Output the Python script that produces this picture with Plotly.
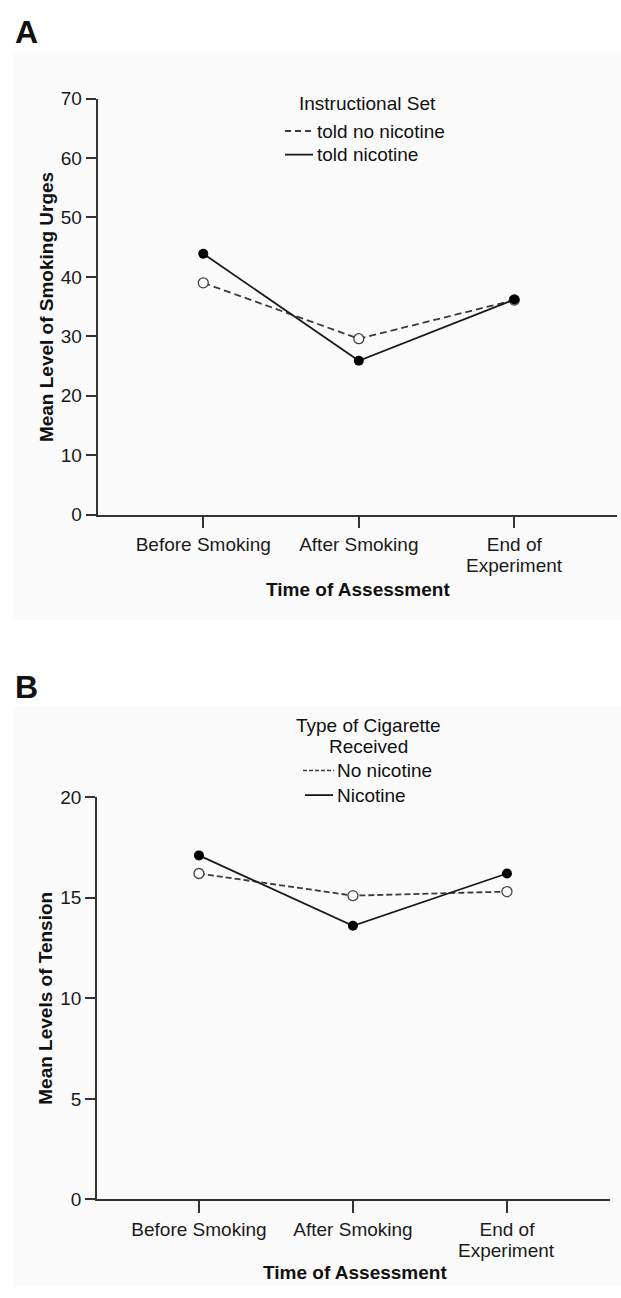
import plotly.graph_objects as go

W, H = 621, 1298

# ---------------- data ----------------
categories = ["Before Smoking", "After Smoking", "End of Experiment"]
tick_line1 = ["Before Smoking", "After Smoking", "End of"]
tick_line2 = ["", "", "Experiment"]

# Panel A: Mean Level of Smoking Urges
urges_told_no_nicotine = [39.0, 29.6, 36.1]
urges_told_nicotine = [43.9, 25.9, 36.2]
a_yticks = [0, 10, 20, 30, 40, 50, 60, 70]

# Panel B: Mean Levels of Tension
tension_no_nicotine = [16.2, 15.1, 15.3]
tension_nicotine = [17.1, 13.6, 16.2]
b_yticks = [0, 5, 10, 15, 20]

FONT = "Liberation Sans, Arial, sans-serif"
AX = "#333333"


def px(x):
    return x / W


def py(y):
    return 1 - y / H


fig = go.Figure()

# Panel A traces
fig.add_trace(go.Scatter(
    x=categories, y=urges_told_no_nicotine, mode="lines+markers",
    name="told no nicotine", xaxis="x", yaxis="y",
    line=dict(color="#3a3a3a", width=1.8, dash="7px,4px"),
    marker=dict(size=10, color="white", line=dict(color="#444444", width=1.3)),
    showlegend=False))
fig.add_trace(go.Scatter(
    x=categories, y=urges_told_nicotine, mode="lines+markers",
    name="told nicotine", xaxis="x", yaxis="y",
    line=dict(color="#1a1a1a", width=1.8),
    marker=dict(size=10, color="black"),
    showlegend=False))

# Panel B traces
fig.add_trace(go.Scatter(
    x=categories, y=tension_no_nicotine, mode="lines+markers",
    name="No nicotine", xaxis="x2", yaxis="y2",
    line=dict(color="#3a3a3a", width=1.8, dash="6px,3px"),
    marker=dict(size=10, color="white", line=dict(color="#444444", width=1.3)),
    showlegend=False))
fig.add_trace(go.Scatter(
    x=categories, y=tension_nicotine, mode="lines+markers",
    name="Nicotine", xaxis="x2", yaxis="y2",
    line=dict(color="#1a1a1a", width=1.8),
    marker=dict(size=10, color="black"),
    showlegend=False))

tickfont = dict(family=FONT, size=19, color="#1a1a1a")
common_x = dict(type="category", showline=True, linecolor=AX, linewidth=1.5,
                ticks="outside", ticklen=12, tickwidth=1.5, tickcolor=AX,
                showgrid=False, zeroline=False, tickfont=tickfont,
                tickmode="array", tickvals=categories, ticktext=tick_line1)
common_y = dict(showline=True, linecolor=AX, linewidth=1.5,
                ticks="outside", ticklen=10, tickwidth=1.5, tickcolor=AX,
                showgrid=False, zeroline=False, tickfont=tickfont)

fig.update_layout(
    width=W, height=H, autosize=False,
    margin=dict(l=0, r=0, t=0, b=0),
    paper_bgcolor="white", plot_bgcolor="rgba(0,0,0,0)",
    font=dict(family=FONT, color="#1a1a1a"),
    xaxis=dict(domain=[px(97.5), px(617)], anchor="y", range=[-0.68, 2.66], **common_x),
    yaxis=dict(domain=[py(513), py(90)], anchor="x", range=[0, 70],
               tickvals=a_yticks, **common_y),
    xaxis2=dict(domain=[px(97), px(610)], anchor="y2", range=[-0.662, 2.669], **common_x),
    yaxis2=dict(domain=[py(1209), py(800)], anchor="x2", range=[0, 20],
                tickvals=b_yticks, **common_y),
)

shapes = [
    # faint panel backgrounds
    dict(type="rect", xref="paper", yref="paper", x0=px(13), x1=1, y0=py(620), y1=py(42),
         fillcolor="#fbfbfb", line=dict(width=0), layer="below"),
    dict(type="rect", xref="paper", yref="paper", x0=px(13), x1=1, y0=0, y1=py(708),
         fillcolor="#fbfbfb", line=dict(width=0), layer="below"),
    # legend A samples
    dict(type="line", xref="paper", yref="paper", x0=px(285), x1=px(313), y0=py(123), y1=py(123),
         line=dict(color="#3a3a3a", width=1.8, dash="6px,4px")),
    dict(type="line", xref="paper", yref="paper", x0=px(285), x1=px(313), y0=py(147), y1=py(147),
         line=dict(color="#1a1a1a", width=1.8)),
    # legend B samples
    dict(type="line", xref="paper", yref="paper", x0=px(303), x1=px(334), y0=py(773), y1=py(773),
         line=dict(color="#3a3a3a", width=1.5, dash="4px,2px")),
    dict(type="line", xref="paper", yref="paper", x0=px(305), x1=px(333), y0=py(798), y1=py(798),
         line=dict(color="#1a1a1a", width=1.8)),
]
fig.update_layout(shapes=shapes)


def ann(text, x, y, size=19, bold=False, xanchor="center", angle=0):
    t = f"<b>{text}</b>" if bold else text
    return dict(text=t, x=px(x), y=py(y), xref="paper", yref="paper", showarrow=False,
                xanchor=xanchor, yanchor="middle", textangle=angle,
                font=dict(family=FONT, size=size, color="#111111"))


annotations = [
    ann("A", 26, 22, size=32, bold=True),
    ann("B", 26, 688, size=32, bold=True),
    # axis titles
    ann("Time of Assessment", 358, 589, bold=True),
    ann("Time of Assessment", 355, 1283, bold=True),
    ann("Mean Level of Smoking Urges", 46, 302, bold=True, angle=-90),
    ann("Mean Levels of Tension", 46, 1005, bold=True, angle=-90),
    # legend A
    ann("Instructional Set", 367, 95),
    ann("told no nicotine", 315, 123, xanchor="left"),
    ann("told nicotine", 315, 147, xanchor="left"),
    # legend B
    ann("Type of Cigarette", 368, 727),
    ann("Received", 368, 749),
    ann("No nicotine", 335, 773, xanchor="left"),
    ann("Nicotine", 335, 798, xanchor="left"),
]

# second line of the multi-line category tick labels (tighter line spacing)
for cat, line2 in zip(categories, tick_line2):
    if line2:
        for xr, y0 in (("x", 513), ("x2", 1209)):
            annotations.append(dict(
                text=line2, x=cat, xref=xr, y=py(y0 + 52), yref="paper",
                showarrow=False, xanchor="center", yanchor="middle",
                font=dict(family=FONT, size=19, color="#1a1a1a")))

fig.update_layout(annotations=annotations)

fig.write_html(
    "out.html",
    config={"displayModeBar": False},
    post_script="document.body.style.margin='0';document.body.style.overflow='hidden';",
)
